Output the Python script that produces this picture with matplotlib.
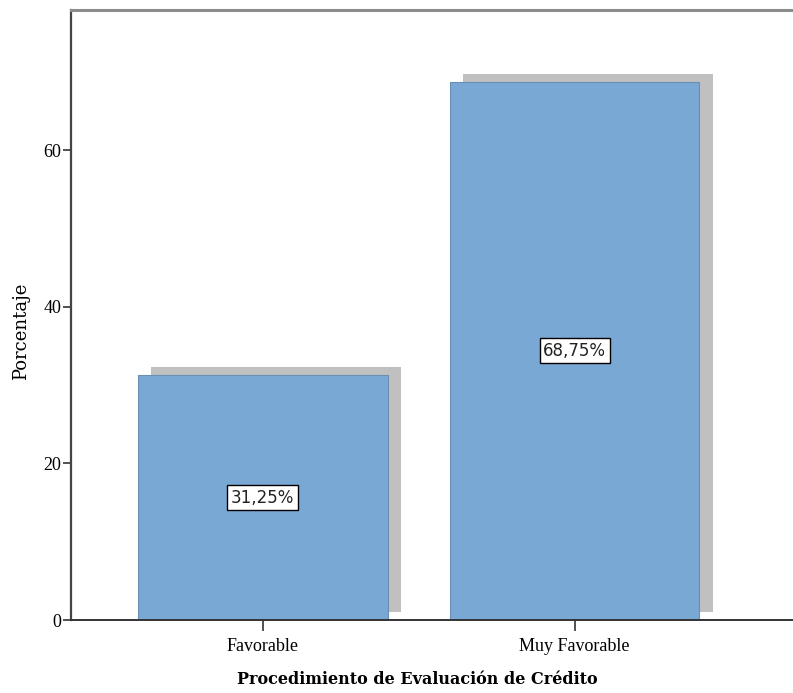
import matplotlib
matplotlib.use('Agg')
from matplotlib import pyplot as plt
import numpy as np

categories = ['Favorable', 'Muy Favorable']
percentages = [31.25, 68.75]
value_labels = ['31,25%', '68,75%']
y_ticks = [0, 20, 40, 60]

bar_color = '#79a8d5'
shadow_color = '#c0c0c0'

fig = plt.figure(figsize=(7.93, 6.93), dpi=100)
ax = fig.add_axes([0.0895, 0.1053, 0.9105, 0.8803])

x = np.arange(len(categories))
width = 0.8
# shadow, shifted right and up like the SPSS drop shadow
ax.bar(x + 0.042, percentages, width=width, bottom=1.0, color=shadow_color,
       edgecolor='none', zorder=1)
ax.bar(x, percentages, width=width, color=bar_color, edgecolor='#6a8fb5',
       linewidth=0.8, zorder=2)

for xi, val, lab in zip(x, percentages, value_labels):
    ax.text(xi, val / 2, lab, ha='center', va='center', fontsize=12,
            family='DejaVu Sans', color='#222222', zorder=3,
            bbox=dict(boxstyle='square,pad=0.22', facecolor='white',
                      edgecolor='black', linewidth=1.0))

ax.set_xlim(-0.615, 1.70)
ax.set_ylim(0, 77.9)
ax.set_xticks(x)
ax.set_xticklabels(categories, family='Liberation Serif', fontsize=13)
ax.set_yticks(y_ticks)
ax.set_yticklabels([str(t) for t in y_ticks], family='Liberation Serif', fontsize=13)
ax.tick_params(axis='y', length=6, width=1.2, color='#333333', pad=1)
ax.tick_params(axis='x', length=8, width=1.2, color='#333333', pad=5)

ax.spines['right'].set_visible(False)
ax.spines['top'].set_color('#8c8c8c')
ax.spines['top'].set_linewidth(2.2)
ax.spines['left'].set_color('#444444')
ax.spines['left'].set_linewidth(1.6)
ax.spines['bottom'].set_color('#333333')
ax.spines['bottom'].set_linewidth(1.4)

ax.set_ylabel('Porcentaje', family='DejaVu Serif', fontsize=13)
ax.yaxis.set_label_coords(-0.056, 0.474)
ax.set_xlabel('Procedimiento de Evaluación de Crédito', family='DejaVu Serif',
              fontsize=11.5, fontweight='bold')
ax.xaxis.set_label_coords(0.479, -0.083)

fig.savefig('out.png', dpi=100)
